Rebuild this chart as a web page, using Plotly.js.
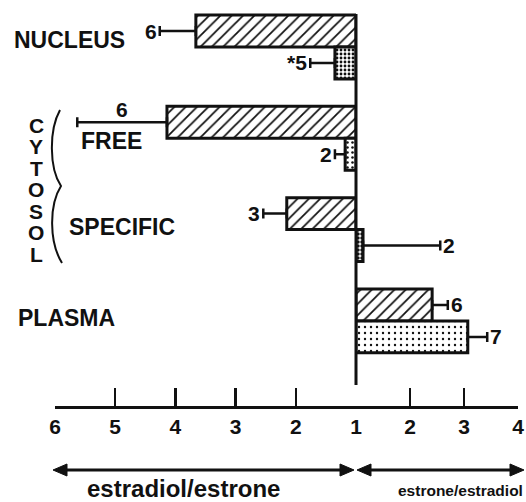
<!DOCTYPE html>
<html>
<head>
<meta charset="utf-8">
<script src="https://cdn.plot.ly/plotly-3.0.1.min.js"></script>
<style>html,body{margin:0;padding:0;background:#fff;}#chart{width:526px;height:502px;}</style>
</head>
<body>
<div id="chart"></div>
<script>
// ---- data ----
const categories = ['NUCLEUS', 'FREE', 'SPECIFIC', 'PLASMA'];
// hatched bars (upper bar of each pair)
const hatchedRatio = [3.66, 4.14, 2.15, 2.41];
const hatchedErr   = [0.60, 1.49, 0.39, 0.29];
const hatchedSide  = ['L', 'L', 'L', 'R'];   // L = estradiol/estrone, R = estrone/estradiol
const hatchedN     = ['6', '6', '3', '6'];
// stippled bars (lower bar of each pair)
const dottedRatio  = [1.35, 1.18, 1.13, 3.07];
const dottedErr    = [0.41, 0.17, 1.43, 0.36];
const dottedSide   = ['L', 'L', 'R', 'R'];
const dottedN      = ['*5', '2', '2', '7'];
// axis ticks
const leftTicks  = [6, 5, 4, 3, 2, 1];
const rightTicks = [2, 3, 4];
const leftAxisTitle  = 'estradiol/estrone';
const rightAxisTitle = 'estrone/estradiol';

// ---- geometry helpers (pixel -> paper) ----
const W = 526, PH = 406;
const px = v => v / W;
const py = v => (PH - v) / PH;
const BW = 0.35;

const FONT = 'Liberation Sans, Arial, Helvetica, sans-serif';

function makeTrace(ratios, errs, sides, side, offset, pattern) {
  const y = [], x = [], e = [], em = [], shp = [], sz = [], sol = [];
  ratios.forEach((r, i) => {
    if (sides[i] !== side) return;
    y.push(i); x.push(r - 1); e.push(errs[i]); em.push(0);
    shp.push(pattern.shape[i]); sz.push(pattern.size[i]); sol.push(pattern.solidity[i]);
  });
  return {
    type: 'bar', orientation: 'h', y: y, x: x, base: 1,
    xaxis: side === 'L' ? 'x' : 'x2', yaxis: 'y',
    offset: offset, width: BW,
    marker: {
      color: '#ffffff',
      line: {color: '#111', width: 3},
      pattern: {shape: shp, size: sz, solidity: sol, fgcolor: '#111', bgcolor: '#fff', fillmode: 'replace'}
    },
    error_x: {type: 'data', symmetric: false, array: e, arrayminus: em,
              color: '#111', thickness: 2.5, width: 5},
    hoverinfo: 'skip', showlegend: false
  };
}

const hatchPattern = {shape: ['/', '/', '/', '/'], size: [8, 8, 8, 8], solidity: [0.22, 0.22, 0.22, 0.22]};
const dotPattern   = {shape: ['.', '.', '.', '.'], size: [4, 5, 4, 6], solidity: [0.4, 0.2, 0.6, 0.12]};

const traces = [
  makeTrace(hatchedRatio, hatchedErr, hatchedSide, 'L', -BW, hatchPattern),
  makeTrace(hatchedRatio, hatchedErr, hatchedSide, 'R', -BW, hatchPattern),
  makeTrace(dottedRatio, dottedErr, dottedSide, 'L', 0, dotPattern),
  makeTrace(dottedRatio, dottedErr, dottedSide, 'R', 0, dotPattern)
];

// ---- annotations ----
const annotations = [];
function nLabel(ratios, errs, sides, labels, yOff, i, above) {
  const end = ratios[i] + errs[i];
  const ax = sides[i] === 'L' ? 'x' : 'x2';
  if (above) {
    annotations.push({xref: ax, yref: 'y', x: ratios[i] + errs[i] / 2, y: i + yOff,
      text: labels[i], showarrow: false, xanchor: 'center', yanchor: 'bottom', yshift: -1,
      font: {family: FONT, size: 21, color: '#111', weight: 'bold'}});
  } else {
    annotations.push({xref: ax, yref: 'y', x: end, y: i + yOff,
      text: labels[i], showarrow: false,
      xanchor: sides[i] === 'L' ? 'right' : 'left', xshift: sides[i] === 'L' ? -1 : 1,
      font: {family: FONT, size: 21, color: '#111', weight: 'bold'}});
  }
}
categories.forEach((c, i) => {
  nLabel(hatchedRatio, hatchedErr, hatchedSide, hatchedN, -BW / 2, i, i === 1);
  nLabel(dottedRatio, dottedErr, dottedSide, dottedN, BW / 2, i, false);
});

// category labels
const catPos = [[12, 40], [79, 141], [67, 227], [16, 318]];
categories.forEach((c, i) => {
  annotations.push({xref: 'paper', yref: 'paper', x: px(catPos[i][0]), y: py(catPos[i][1]),
    text: c, showarrow: false, xanchor: 'left', yanchor: 'middle',
    font: {family: FONT, size: 23, color: '#111', weight: 'bold'}});
});
// CYTOSOL vertical letters
'CYTOSOL'.split('').forEach((ch, k) => {
  annotations.push({xref: 'paper', yref: 'paper', x: px(36), y: py(125 + k * 21.5),
    text: ch, showarrow: false, xanchor: 'center', yanchor: 'middle',
    font: {family: FONT, size: 21, color: '#111', weight: 'bold'}});
});
// bottom ratio titles
annotations.push({xref: 'paper', yref: 'paper', x: px(183), y: py(489), text: leftAxisTitle,
  showarrow: false, xanchor: 'center', yanchor: 'middle',
  font: {family: FONT, size: 24, color: '#111', weight: 'bold'}});
annotations.push({xref: 'paper', yref: 'paper', x: px(460), y: py(490), text: rightAxisTitle,
  showarrow: false, xanchor: 'center', yanchor: 'middle',
  font: {family: FONT, size: 15.5, color: '#111', weight: 'bold'}});

// ---- shapes ----
const shapes = [];
// central baseline at ratio 1
shapes.push({type: 'line', xref: 'paper', yref: 'paper', x0: px(356), x1: px(356), y0: py(14), y1: py(385),
  line: {color: '#111', width: 3}});
// brace
function P(x, y) { return px(x) + ',' + py(y); }
shapes.push({type: 'path', xref: 'paper', yref: 'paper',
  path: 'M' + P(60, 110) + ' C' + P(49, 130) + ' ' + P(49, 168) + ' ' + P(61, 186) +
        ' C' + P(49, 205) + ' ' + P(49, 242) + ' ' + P(62, 263),
  line: {color: '#111', width: 2}});
// double arrows
function dblArrow(x1, x2, y) {
  const L = 14, H = 6;
  shapes.push({type: 'line', xref: 'paper', yref: 'paper', x0: px(x1 + L - 2), x1: px(x2 - L + 2), y0: py(y), y1: py(y),
    line: {color: '#111', width: 3}});
  shapes.push({type: 'path', xref: 'paper', yref: 'paper',
    path: 'M' + P(x1, y) + ' L' + P(x1 + L, y - H) + ' L' + P(x1 + L, y + H) + ' Z',
    fillcolor: '#111', line: {color: '#111', width: 1}});
  shapes.push({type: 'path', xref: 'paper', yref: 'paper',
    path: 'M' + P(x2, y) + ' L' + P(x2 - L, y - H) + ' L' + P(x2 - L, y + H) + ' Z',
    fillcolor: '#111', line: {color: '#111', width: 1}});
}
dblArrow(53, 354, 470);
dblArrow(357, 524, 470);

const axisCommon = {
  showgrid: false, zeroline: false, showline: true, linecolor: '#111', linewidth: 2.5,
  ticks: 'inside', ticklen: 18, tickwidth: 2.5, tickcolor: '#111',
  tickfont: {family: FONT, size: 21, color: '#111', weight: 'bold'},
  tickmode: 'array', fixedrange: true, anchor: 'y'
};

const layout = {
  width: 526, height: 502,
  margin: {l: 0, r: 0, t: 0, b: 96, pad: 0},
  paper_bgcolor: '#fff', plot_bgcolor: '#fff',
  barmode: 'overlay',
  font: {family: FONT, color: '#111'},
  xaxis: Object.assign({}, axisCommon, {domain: [px(55), px(356)], range: [6, 1],
    tickvals: leftTicks, ticktext: leftTicks.map(String)}),
  xaxis2: Object.assign({}, axisCommon, {domain: [px(356), px(518)], range: [1, 4],
    tickvals: rightTicks, ticktext: rightTicks.map(String)}),
  yaxis: {visible: false, range: [(PH - 47) / 91.3, -47 / 91.3], fixedrange: true},
  annotations: annotations,
  shapes: shapes
};

Plotly.newPlot('chart', traces, layout, {displayModeBar: false, staticPlot: true});
</script>
</body>
</html>
